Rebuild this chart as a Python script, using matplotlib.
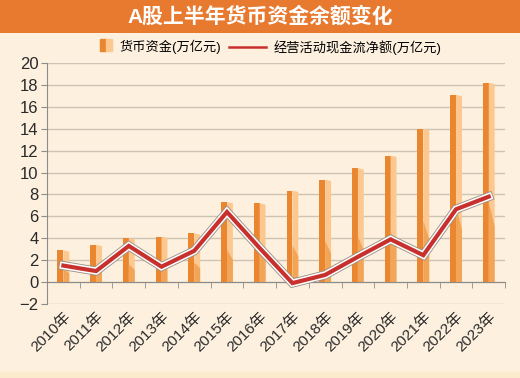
import matplotlib
matplotlib.use('Agg')
import matplotlib.pyplot as plt
import matplotlib.patheffects as pe
from matplotlib.patches import Rectangle
from matplotlib.lines import Line2D
import numpy as np

plt.rcParams['font.family'] = ['Liberation Sans', 'Noto Sans CJK SC', 'DejaVu Sans']
plt.rcParams['axes.unicode_minus'] = True

years = ['2010年', '2011年', '2012年', '2013年', '2014年', '2015年', '2016年',
         '2017年', '2018年', '2019年', '2020年', '2021年', '2022年', '2023年']
cash = [2.9, 3.4, 4.0, 4.15, 4.45, 7.3, 7.2, 8.35, 9.35, 10.4, 11.55, 14.0, 17.1, 18.2]
flow = [1.5, 1.0, 3.3, 1.4, 2.85, 6.4, 3.1, -0.1, 0.65, 2.3, 3.9, 2.45, 6.65, 7.8]

bg = '#fdf0de'
dark = '#ea8530'
light = '#fcc890'
mid = '#f2a457'
red = '#c8302d'


class BarHandler:
    # small square split in dark / light halves
    def legend_artist(self, legend, orig_handle, fontsize, handlebox):
        x0, y0 = handlebox.xdescent, handlebox.ydescent
        h = handlebox.height
        s = h * 1.1
        x0 = x0 + handlebox.width - s
        a = Rectangle((x0, y0 - 0.05 * h), s / 2, s, color=dark,
                      transform=handlebox.get_transform())
        b = Rectangle((x0 + s / 2, y0 - 0.05 * h), s / 2, s, color=light,
                      transform=handlebox.get_transform())
        handlebox.add_artist(a)
        handlebox.add_artist(b)
        return a


fig = plt.figure(figsize=(5.2, 3.78), dpi=100)
fig.patch.set_facecolor(bg)

# title band and bottom strip
fig.add_artist(Rectangle((0, 0.912), 1, 0.088, transform=fig.transFigure,
                         facecolor='#e87a30', edgecolor='none'))
fig.add_artist(Rectangle((0, 0), 1, 0.016, transform=fig.transFigure,
                         facecolor='#fbeacb', edgecolor='none'))
fig.text(0.5, 0.956, 'A股上半年货币资金余额变化', color='white', fontsize=15,
         fontweight='bold', ha='center', va='center')

ax = fig.add_axes([0.0904, 0.196, 0.881, 0.637])
ax.set_facecolor(bg)

x = np.arange(len(years))
w = 0.18
ax.bar(x - w / 2, cash, w, color=dark, zorder=2)
for xi, v in zip(x, cash):
    ax.fill([xi, xi + w, xi + w, xi], [0, 0, v - 0.12, v], color=light, lw=0, zorder=2)
    ax.fill([xi, xi + w, xi + w, xi], [0, 0, v * 0.28, v * 0.4], color=mid, lw=0, zorder=2)

ax.plot(x, flow, color=red, lw=3, zorder=4, solid_joinstyle='miter',
        path_effects=[pe.Stroke(linewidth=6.5, foreground='#9a9288'),
                      pe.Stroke(linewidth=5.2, foreground='white'),
                      pe.Normal()])

ax.set_xlim(-0.5, len(years) - 0.5)
ax.set_ylim(-2, 20)
ax.set_yticks(np.arange(-2, 21, 2))
ax.yaxis.grid(True, color='#cfc4b4', lw=1)
ax.set_axisbelow(True)

for s in ['top', 'right']:
    ax.spines[s].set_visible(False)
ax.spines['left'].set_color('#8c8c8c')
ax.spines['bottom'].set_color('#8c8c8c')
ax.spines['bottom'].set_position(('data', 0))
ax.spines['bottom'].set_zorder(3)

ax.tick_params(axis='y', colors='#8c8c8c', length=4, labelsize=12,
               labelcolor='#2a2a2a', pad=2)
ax.set_xticks(x)
ax.set_xticklabels(years, rotation=45, ha='right', rotation_mode='anchor')
ax.set_xticks(np.arange(len(years) + 1) - 0.5, minor=True)
ax.tick_params(axis='x', which='major', length=0, pad=20, labelsize=11,
               labelcolor='#2a2a2a')
ax.tick_params(axis='x', which='minor', length=4, color='#8c8c8c')

bar_handle = Rectangle((0, 0), 1, 1, color=dark)
line_handle = Line2D([], [], color=red, lw=1.8)
leg1 = fig.legend([bar_handle], ['货币资金(万亿元)'],
                  handler_map={Rectangle: BarHandler()},
                  loc='center left', bbox_to_anchor=(0.19, 0.875), frameon=False,
                  fontsize=9.5, handlelength=1.0, handleheight=0.9,
                  handletextpad=0.6, borderpad=0, borderaxespad=0)
leg2 = fig.legend([line_handle], ['经营活动现金流净额(万亿元)'],
                  loc='center left', bbox_to_anchor=(0.44, 0.875), frameon=False,
                  fontsize=9.5, handlelength=2.8, handletextpad=0.6,
                  borderpad=0, borderaxespad=0)

fig.savefig('out.png', dpi=100, facecolor=bg)
